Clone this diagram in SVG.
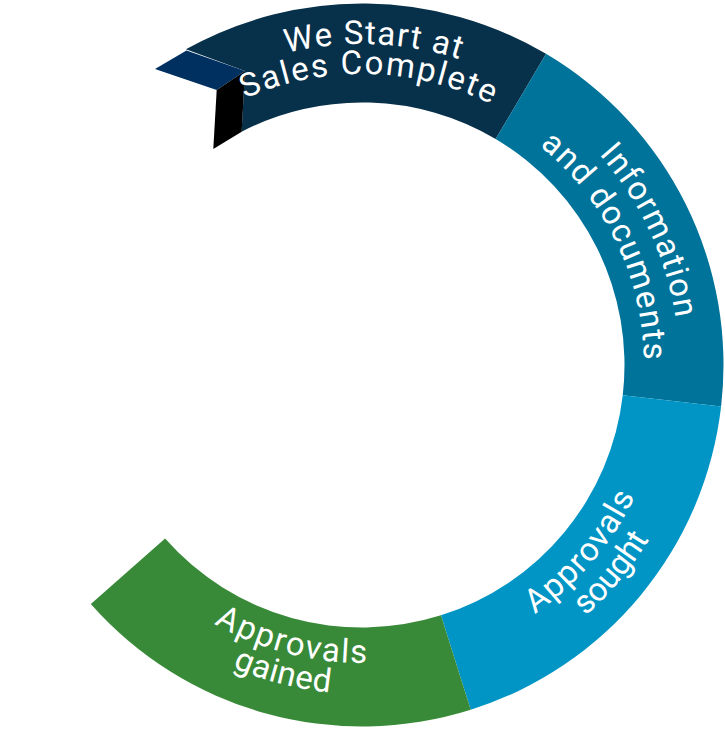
<svg xmlns="http://www.w3.org/2000/svg" width="725" height="731" viewBox="0 0 725 731">
<style>
.lbl{font-family:Roboto,"Liberation Sans",sans-serif;font-size:33px;fill:#fff;text-anchor:middle}
</style>
<defs>
<path id="p1" d="M143.08,130.24 A321,321 0 0 1 596.76,146.08"/>
<path id="p2" d="M160.95,154.62 A291,291 0 0 1 572.38,163.95"/>
<path id="p3" d="M469.90,66.93 A317,317 0 0 1 660.07,472.90"/>
<path id="p4" d="M453.81,98.36 A282,282 0 0 1 628.64,456.81"/>
<path id="p5" d="M385.77,667.07 A303,303 0 0 0 664.07,341.23"/>
<path id="p6" d="M392.45,699.62 A336,336 0 0 0 696.62,334.55"/>
<path id="p7" d="M105.50,516.69 A298,298 0 0 0 513.69,621.50"/>
<path id="p8" d="M78.82,532.47 A329,329 0 0 0 529.47,648.18"/>
</defs>
<rect width="725" height="731" fill="#fff"/>
<g id="sales-complete">
<path d="M185.92,49.28 A361.5,361.5 0 0 1 546.02,53.84 L495.62,139.06 A262.5,262.5 0 0 0 241.6,131.74 L245,71 Z" fill="#07304A"/>
<polygon points="155,69 186.5,50.5 245,71 216.7,90" fill="#00305F"/>
<polygon points="216.7,90 245,71 241.7,131.7 213.3,149" fill="#000"/>
<text class="lbl"><textPath href="#p1" startOffset="50%" textLength="175" lengthAdjust="spacing">We Start at</textPath></text>
<text class="lbl"><textPath href="#p2" startOffset="50%" textLength="254" lengthAdjust="spacing">Sales Complete</textPath></text>
</g>
<g id="information">
<path d="M546.02,53.84 A361.5,361.5 0 0 1 721.10,406.55 L622.76,395.17 A262.5,262.5 0 0 0 495.62,139.06 Z" fill="#00739A"/>
<text class="lbl"><textPath href="#p3" startOffset="50%" textLength="183" lengthAdjust="spacing">Information</textPath></text>
<text class="lbl"><textPath href="#p4" startOffset="50%" textLength="246" lengthAdjust="spacing">and documents</textPath></text>
</g>
<g id="approvals-sought">
<path d="M721.10,406.55 A361.5,361.5 0 0 1 470.71,709.77 L440.94,615.35 A262.5,262.5 0 0 0 622.76,395.17 Z" fill="#0095C5"/>
<text class="lbl"><textPath href="#p5" startOffset="50%" textLength="156" lengthAdjust="spacing">Approvals</textPath></text>
<text class="lbl"><textPath href="#p6" startOffset="50%" textLength="100" lengthAdjust="spacing">sought</textPath></text>
</g>
<g id="approvals-gained">
<path d="M470.71,709.77 A361.5,361.5 0 0 1 90.84,604.06 L165.10,538.59 A262.5,262.5 0 0 0 440.94,615.35 Z" fill="#388A38"/>
<text class="lbl"><textPath href="#p7" startOffset="50%" textLength="160" lengthAdjust="spacing">Approvals</textPath></text>
<text class="lbl"><textPath href="#p8" startOffset="50%" textLength="101" lengthAdjust="spacing">gained</textPath></text>
</g>
</svg>
